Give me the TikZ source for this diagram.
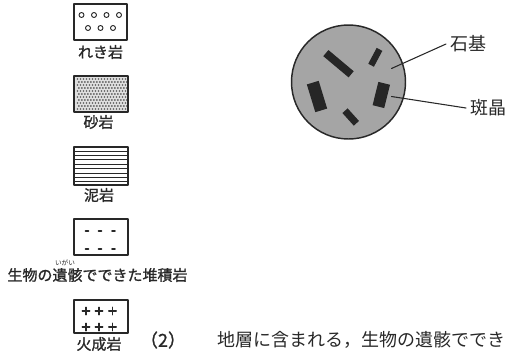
\documentclass[tikz,border=0pt]{standalone}
\usepackage{fontspec}
\setmainfont{Noto Sans CJK JP}
\newfontfamily\heavyjp{Noto Sans CJK JP}[FakeBold=1.2]

\definecolor{groundmass}{RGB}{165,165,165}
\definecolor{phenocryst}{RGB}{38,38,38}
\definecolor{inkgray}{RGB}{40,40,40}

\begin{document}
\begin{tikzpicture}[x=0.75pt,y=-0.75pt,line cap=round,line join=round,
        rockbox/.style={draw=inkgray,line width=0.9pt},
        rocklabel/.style={font=\heavyjp\fontsize{11.25}{12}\selectfont,inner sep=0pt,text=inkgray},
        biglabel/.style={font=\fontsize{13.5}{15}\selectfont,text=inkgray},
        crystal/.style={fill=phenocryst}]
        \useasboundingbox (0,0) rectangle (514,358);

        % gravel
        \draw[rockbox] (74,4) rectangle (127,40);
        \foreach \x in {81.5,94,106.5,119}
            \draw[inkgray,line width=0.7pt] (\x,15) circle (2.5);
        \foreach \x in {88,100.5,113}
            \draw[inkgray,line width=0.7pt] (\x,28) circle (2.5);
        \node[rocklabel] (reki) at (100.5,52) {れき岩};

        % sand
        \fill[gray!25] (74,76) rectangle (128,112);
        \foreach \i in {0,...,16}
            \foreach \j in {0,...,10}
                \fill[gray!70!black] ({77.5+3*\i+1.4*mod(\j,2)},{79+3*\j}) circle (0.95);
        \draw[rockbox] (74,76) rectangle (128,112);
        \node[rocklabel] (sa) at (98.5,122) {砂岩};

        % mud
        \draw[rockbox] (74,147) rectangle (128,185);
        \foreach \k in {0,...,7}
            \draw[inkgray,line width=0.7pt] (74,{151+4.4*\k}) -- (128,{151+4.4*\k});
        \node[rocklabel] (dei) at (99,195) {泥岩};

        % organic sediment
        \draw[rockbox] (74,219) rectangle (128,255);
        \foreach \y in {231,249}
            \foreach \x in {87,100,113.5}
                \draw[inkgray,line width=1.2pt] (\x-1.5,\y) -- (\x+1.5,\y);
        \node[font=\fontsize{5}{5}\selectfont,inner sep=0pt,text=inkgray] (ruby) at (65,263) {いがい};
        \node[rocklabel] (taiseki) at (97.5,275) {生物の遺骸でできた堆積岩};

        % igneous
        \draw[rockbox] (74,300) rectangle (128,333);
        \foreach \y in {311,327}
            \foreach \x in {86,99,112.5} {
                \draw[inkgray,line width=0.9pt] (\x-3.8,\y) -- (\x+3.8,\y);
                \draw[inkgray,line width=0.9pt] (\x,\y-3.8) -- (\x,\y+3.8);
            }
        \node[rocklabel,fill=white,inner sep=0.5pt] (kasei) at (99,344) {火成岩};

        % porphyritic texture
        \filldraw[fill=groundmass,draw=inkgray,line width=1.1pt] (348.5,82) circle (57);
        \fill[crystal,shift={(338.5,63.7)},rotate=-40] (-16.5,-4) rectangle (16.5,4);
        \fill[crystal,shift={(375.3,57.3)},rotate=62] (-9,-3.2) rectangle (9,3.2);
        \fill[crystal,shift={(317,96.5)},rotate=17] (-6.2,-14.5) rectangle (6.2,14.5);
        \fill[crystal,shift={(381.3,95)},rotate=-14] (-6,-12) rectangle (6,12);
        \fill[crystal,shift={(350.7,117)},rotate=-48] (-8.5,-3.5) rectangle (8.5,3.5);

        \coordinate (gm) at (391.5,68.5);
        \coordinate (pc) at (391.5,96.5);
        \node[biglabel,anchor=west] (sekki) at (446,44) {石基};
        \node[biglabel,anchor=west] (hansho) at (466,108) {斑晶};
        \draw[inkgray,line width=0.8pt] (gm) -- (sekki.west);
        \draw[inkgray,line width=0.8pt] (pc) -- (hansho.west);

        \node[biglabel,font=\heavyjp\fontsize{13.5}{15}\selectfont] (qnum) at (163,340) {（2）};
        \node[biglabel,anchor=west,inner sep=0pt] (question) at (217,340)
            {地層に含まれる，生物の遺骸ででき};
    \end{tikzpicture}
\end{document}
